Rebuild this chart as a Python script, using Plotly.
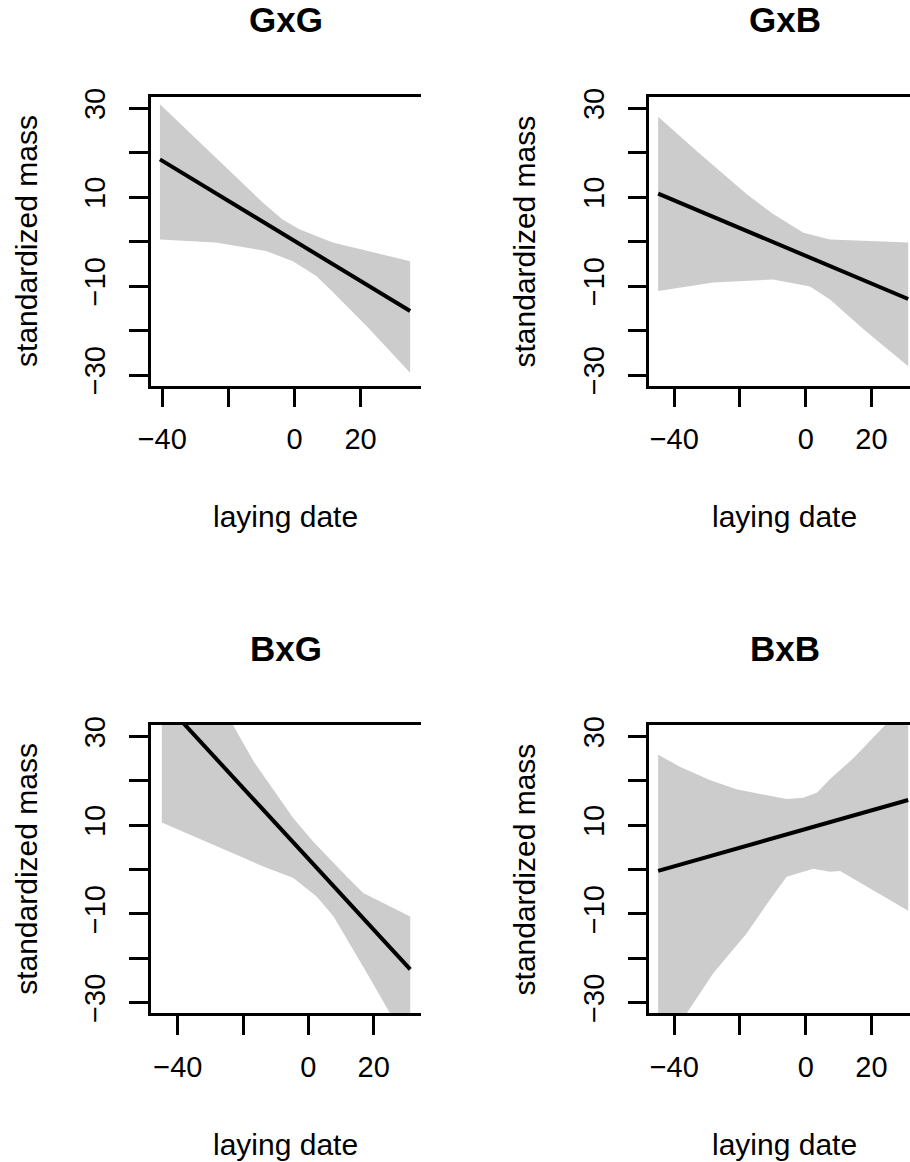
import plotly.graph_objects as go

# ---------------- data ----------------
panel_titles = ["GxG", "GxB", "BxG", "BxB"]

# GxG
gxg_line_x = [-40.7, 35.0]
gxg_line_y = [18.5, -15.6]
gxg_up_x = [-40.7, -9.6, -3.6, 1.5, 11.6, 21.8, 35.0]
gxg_up_y = [30.9, 8.8, 5.0, 2.8, -0.2, -2.1, -4.4]
gxg_lo_x = [-40.7, -23.8, -8.6, -0.5, 6.6, 11.6, 21.8, 35.0]
gxg_lo_y = [0.5, -0.2, -2.1, -4.4, -7.7, -11.3, -19.0, -29.5]

# GxB
gxb_line_x = [-44.9, 31.2]
gxb_line_y = [10.8, -12.9]
gxb_up_x = [-44.9, -33.2, -18.0, -9.9, -0.7, 7.4, 31.2]
gxb_up_y = [28.1, 20.4, 10.7, 6.2, 2.0, 0.5, -0.2]
gxb_lo_x = [-44.9, -28.1, -9.9, 1.3, 7.4, 17.6, 31.2]
gxb_lo_y = [-11.1, -9.2, -8.5, -10.1, -13.0, -19.7, -28.0]

# BxG
bxg_line_x = [-44.9, 31.2]
bxg_line_y = [38.3, -22.5]
bxg_up_x = [-44.9, -23.0, -16.8, -4.6, 1.5, 11.8, 16.8, 31.2]
bxg_up_y = [61.0, 32.6, 24.4, 11.6, 6.3, -1.6, -5.3, -10.6]
bxg_lo_x = [-44.9, -13.8, -4.6, 2.6, 7.7, 16.8, 25.0, 31.2]
bxg_lo_y = [10.6, 0.7, -1.9, -6.1, -10.6, -21.9, -32.4, -40.2]

# BxB
bxb_line_x = [-44.9, 31.2]
bxb_line_y = [-0.3, 15.7]
bxb_up_x = [-44.9, -38.3, -29.2, -21.1, -5.8, -0.7, 3.5, 7.4, 14.5, 24.2, 31.2]
bxb_up_y = [25.9, 23.2, 20.2, 18.1, 15.9, 16.2, 17.4, 20.4, 25.1, 32.6, 38.0]
bxb_lo_x = [-44.9, -36.2, -28.2, -18.0, -10.9, -5.8, 2.3, 7.4, 10.5, 20.6, 31.2]
bxb_lo_y = [-42.2, -32.4, -23.4, -14.4, -6.8, -1.6, 0.2, -0.5, -0.3, -4.6, -9.3]

x_tickvals = [-40, -20, 0, 20]
x_ticktext = ["\u221240", "", "0", "20"]
y_tickvals = [-30, -20, -10, 0, 10, 20, 30]
y_ticktext = ["\u221230", "", "\u221210", "", "10", "", "30"]

x_label = "laying date"
y_label = "standardized mass"

# ---------------- layout geometry ----------------
W, H = 910, 1162
FONT = "Liberation Sans, Arial, sans-serif"
BAND = "#CCCCCC"

panels = [
    dict(data=(gxg_line_x, gxg_line_y, gxg_up_x, gxg_up_y, gxg_lo_x, gxg_lo_y),
         px=(150.7, 420.7), py=(96.7, 385.7), xr=[-43.5, 38.2]),
    dict(data=(gxb_line_x, gxb_line_y, gxb_up_x, gxb_up_y, gxb_lo_x, gxb_lo_y),
         px=(649.3, 910.0), py=(96.7, 385.7), xr=[-47.6, 31.75]),
    dict(data=(bxg_line_x, bxg_line_y, bxg_up_x, bxg_up_y, bxg_lo_x, bxg_lo_y),
         px=(150.7, 420.7), py=(725.0, 1013.3), xr=[-48.3, 34.4]),
    dict(data=(bxb_line_x, bxb_line_y, bxb_up_x, bxb_up_y, bxb_lo_x, bxb_lo_y),
         px=(649.3, 910.0), py=(725.0, 1013.3), xr=[-47.6, 31.75]),
]
y_range = [-32.4, 32.6]

fig = go.Figure()
layout = dict(
    template="none",
    width=W, height=H, autosize=False,
    margin=dict(l=0, r=0, t=0, b=0, pad=0, autoexpand=False),
    paper_bgcolor="white", plot_bgcolor="white",
    showlegend=False,
    font=dict(family=FONT, color="black", size=29),
)
annotations = []

for i, p in enumerate(panels):
    k = "" if i == 0 else str(i + 1)
    lx, ly, ux, uy, dx, dy = p["data"]
    poly_x = list(ux) + list(reversed(dx))
    poly_y = list(uy) + list(reversed(dy))
    fig.add_trace(go.Scatter(x=poly_x, y=poly_y, fill="toself", fillcolor=BAND,
                             mode="lines", line=dict(width=0, color=BAND),
                             hoverinfo="skip", xaxis="x" + k, yaxis="y" + k))
    fig.add_trace(go.Scatter(x=lx, y=ly, mode="lines",
                             line=dict(color="black", width=4),
                             xaxis="x" + k, yaxis="y" + k))
    x0, x1 = p["px"]
    y0, y1 = p["py"]
    layout["xaxis" + k] = dict(
        domain=[x0 / W, x1 / W], range=p["xr"], anchor="y" + k, automargin=False,
        showgrid=False, zeroline=False,
        showline=True, linecolor="black", linewidth=2.5, mirror=True,
        ticks="outside", ticklen=19, tickwidth=2.5, tickcolor="black",
        tickvals=x_tickvals, ticktext=x_ticktext, ticklabelstandoff=7,
        tickfont=dict(family=FONT, size=29, color="black"),
        fixedrange=True,
    )
    layout["yaxis" + k] = dict(
        domain=[1 - y1 / H, 1 - y0 / H], range=y_range, anchor="x" + k, automargin=False,
        showgrid=False, zeroline=False,
        showline=True, linecolor="black", linewidth=2.5, mirror=False,
        ticks="outside", ticklen=19, tickwidth=2.5, tickcolor="black",
        tickvals=y_tickvals, ticktext=y_ticktext, tickangle=-90, ticklabelstandoff=12,
        tickfont=dict(family=FONT, size=29, color="black"),
        fixedrange=True,
    )
    cx = (x0 + 271.0 / 2) if i % 2 else (x0 + x1) / 2
    cy = (y0 + y1) / 2
    # title
    annotations.append(dict(text="<b>%s</b>" % panel_titles[i], x=cx / W, y=1 - (y0 - 77) / H,
                            xref="paper", yref="paper", xanchor="center", yanchor="middle",
                            showarrow=False, font=dict(family=FONT, size=35, color="black")))
    # x label
    annotations.append(dict(text=x_label, x=cx / W, y=1 - (y1 + 131) / H,
                            xref="paper", yref="paper", xanchor="center", yanchor="middle",
                            showarrow=False, font=dict(family=FONT, size=30, color="black")))
    # y label
    annotations.append(dict(text=y_label, x=(x0 - 125) / W, y=1 - cy / H, textangle=-90,
                            xref="paper", yref="paper", xanchor="center", yanchor="middle",
                            showarrow=False, font=dict(family=FONT, size=30, color="black")))

layout["annotations"] = annotations
fig.update_layout(**layout)
fig.write_html("out.html")
